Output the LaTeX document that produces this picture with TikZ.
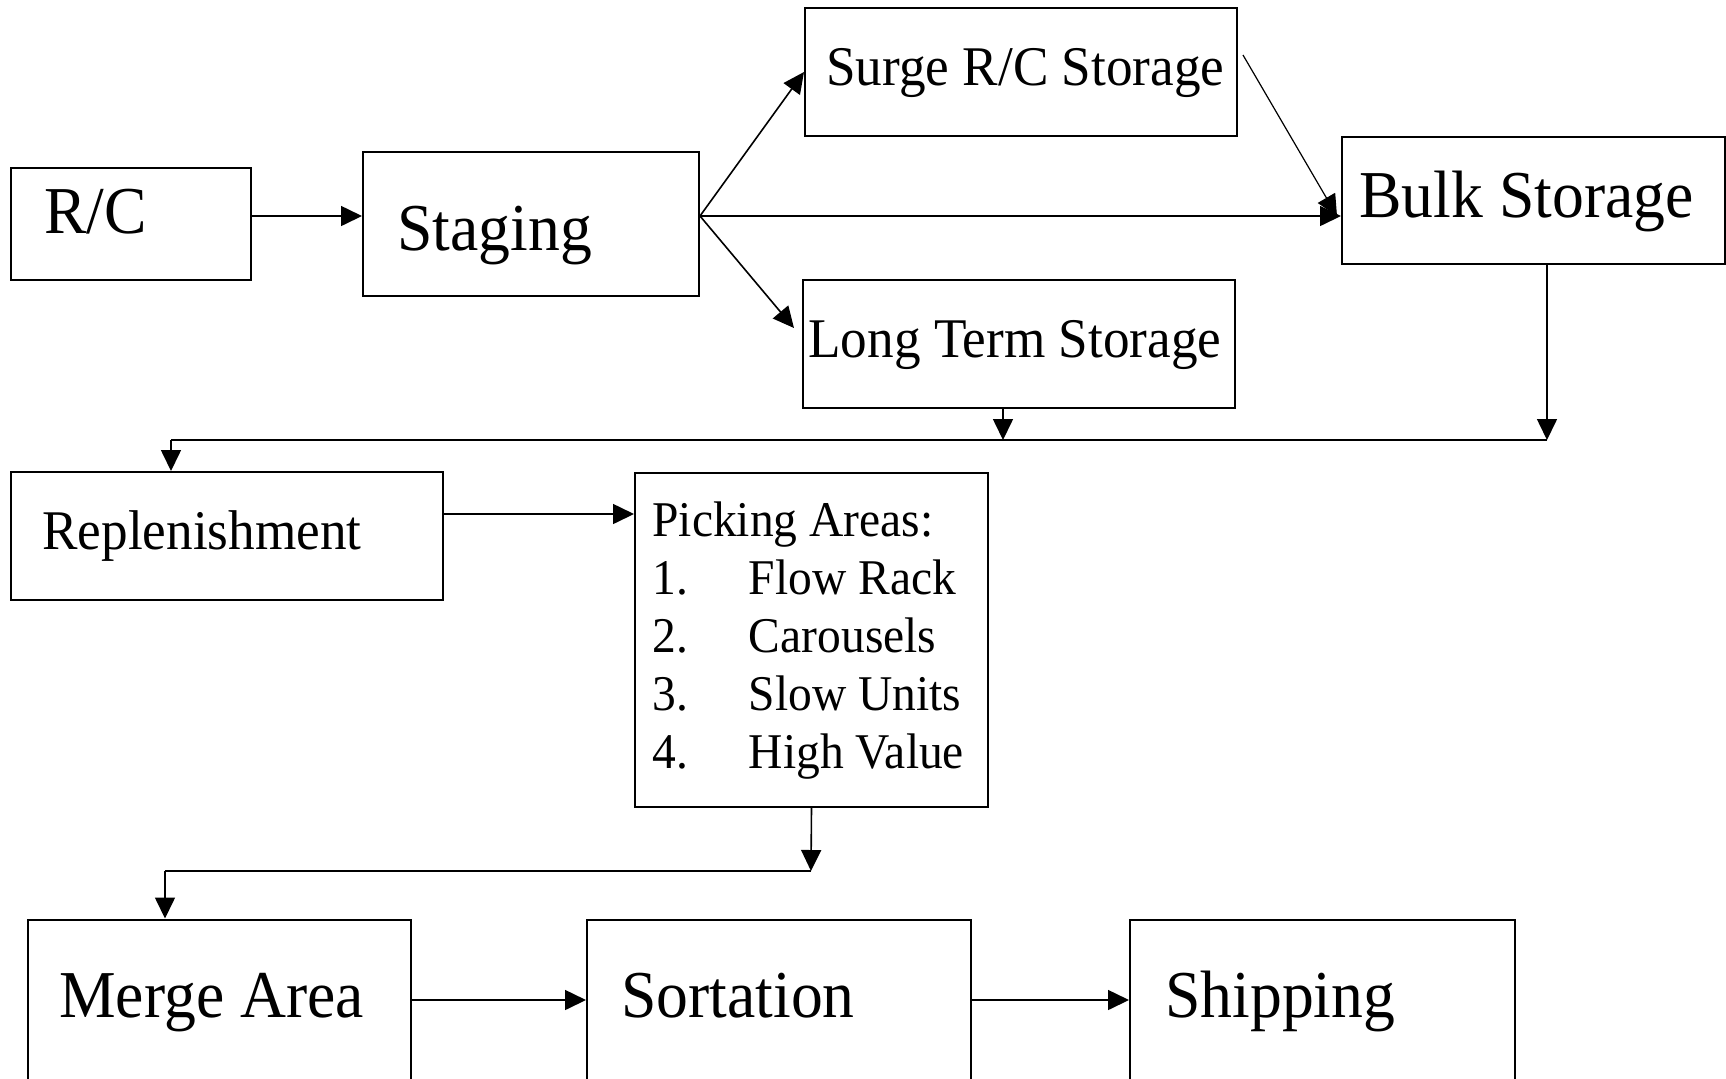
\documentclass[tikz,border=0pt]{standalone}
\usepackage{fontspec}
\setmainfont{Liberation Serif}[FakeStretch=0.95]
\usetikzlibrary{arrows.meta,fit}

\tikzset{
  bigtxt/.style={font=\fontsize{33.5}{36}\selectfont},
  midtxt/.style={font=\fontsize{28}{31}\selectfont},
  smalltxt/.style={font=\fontsize{25}{29}\selectfont},
}

\begin{document}
\begin{tikzpicture}[x=0.5pt, y=-0.5pt]
      \useasboundingbox (0,0) rectangle (1726,1078);
      \clip (0,0) rectangle (1726,1078);
      \begin{scope}[every node/.style={rectangle,draw,line width=1pt,inner sep=0pt}]
        \node (RC) [fit={(11,168) (251,280)}] {};
        \node (Stage) [fit={(363,152) (699,296)}] {};
        \node (Surge) [fit={(805,8) (1237,136)}] {};
        \node (Long) [fit={(803,280) (1235,408)}] {};
        \node (Bulk) [fit={(1342,137) (1724.5,264)}] {};
        \node (Repl) [fit={(11,472) (443,600)}] {};
        \node (Pick) [fit={(635,472.5) (988,807)}] {};
        \node (Merge) [fit={(27.5,919.5) (411,1080.5)}] {};
        \node (Sort) [fit={(587,919.5) (971,1080.5)}] {};
        \node (Ship) [fit={(1130,919.5) (1515,1080.5)}] {};
      \end{scope}
      \begin{scope}[every node/.style={anchor=base west,inner sep=0pt}]
        \node (RCt) [bigtxt] at (44,233) {R/C};
        \node (Staget) [bigtxt] at (397,250) {Staging};
        \node (Surget) [midtxt] at (826,85) {Surge R/C Storage};
        \node (Longt) [midtxt] at (808,357) {Long Term Storage};
        \node (Bulkt) [bigtxt] at (1359,217) {Bulk Storage};
        \node (Replt) [midtxt] at (42,549) {Replenishment};
        \node (Pickt) [smalltxt,align=left] at (652,768) {Picking Areas:\\
          \makebox[48.3pt][l]{1.}Flow Rack\\
          \makebox[48.3pt][l]{2.}Carousels\\
          \makebox[48.3pt][l]{3.}Slow Units\\
          \makebox[48.3pt][l]{4.}High Value};
        \node (Merget) [bigtxt] at (59,1017) {Merge Area};
        \node (Sortt) [bigtxt] at (621,1017) {Sortation};
        \node (Shipt) [bigtxt] at (1165,1017) {Shipping};
      \end{scope}
      \coordinate (fork) at ([yshift=4pt]Stage.east);
      \coordinate (bulkin) at (fork -| Bulk.west);
      \coordinate (SurgeOut) at (1243,55);
      \coordinate (BusR) at (1547,440);
      \coordinate (BusM) at (1003,440);
      \coordinate (BusL) at (171,440);
      \coordinate (ReplOut) at ([yshift=11pt]Repl.east);
      \coordinate (Bus2R) at (811,871);
      \coordinate (Bus2L) at (165,871);
      \begin{scope}
        [every edge/.style={draw=black,line width=0.8pt,-{Triangle[length=10.5pt,width=10pt]}}]
        \path ([yshift=4pt]RC.east) edge (fork -| Stage.west);
        \path (fork) edge (Surge.west);
        \path (fork) edge (bulkin);
        \path (fork) edge ([xshift=-4pt,yshift=8pt]Long.west);
        \path (SurgeOut) edge[line width=0.6pt] ([xshift=-2pt]bulkin);
        \path (BusM |- Long.south) edge (BusM);
        \path (BusR |- Bulk.south) edge (BusR);
        \draw[line width=0.8pt] (BusR) -- (BusL);
        \path (BusL) edge (BusL |- Repl.north);
        \path (ReplOut) edge (ReplOut -| Pick.west);
        \path (Pick.south) edge (Bus2R);
        \draw[line width=0.8pt] (Bus2R) -- (Bus2L);
        \path (Bus2L) edge (Bus2L |- Merge.north);
        \path (Merge.east) edge (Sort.west);
        \path (Sort.east) edge (Ship.west);
      \end{scope}
    \end{tikzpicture}
\end{document}
